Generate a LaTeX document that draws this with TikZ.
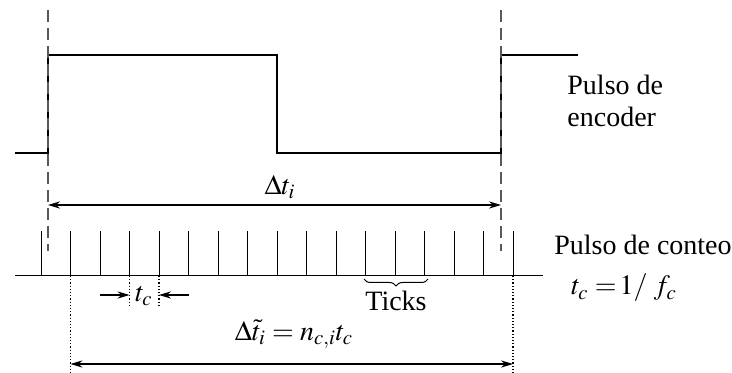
\documentclass[tikz,border=0pt]{standalone}
\usepackage{mathptmx}
\usepackage{fontspec}
\setmainfont{Liberation Serif}
\usetikzlibrary{arrows.meta, positioning, decorations.pathreplacing}

\begin{document}
\begin{tikzpicture}[
    x=0.5pt, y=-0.5pt,
    % styles des traits
    signal/.style = {line width=1pt, line join=miter},
    tickln/.style = {line width=0.5pt},
    guide/.style  = {dashed, gray!70!black, line width=0.6pt, dash pattern=on 6pt off 3pt},
    dotln/.style  = {densely dotted, line width=0.6pt},
    dim/.style    = {{Stealth[length=6pt,width=3.6pt]}-{Stealth[length=6pt,width=3.6pt]}, line width=0.6pt},
    arrow/.style  = {-{Stealth[length=6pt,width=3.6pt]}, line width=0.6pt},
    lbl/.style    = {inner sep=1pt, font=\fontsize{14}{16}\selectfont},
]
\useasboundingbox (0,0) rectangle (732,373);

% ── Pulso de encoder ─────────────────────────────────────────────────────────
\coordinate (e0) at (15,153);
\coordinate (e1) at (48,153);
\coordinate (e2) at (48,55);
\coordinate (e3) at (277,55);
\coordinate (e4) at (277,153);
\coordinate (e5) at (501,153);
\coordinate (e6) at (501,55);
\coordinate (e7) at (578,55);
\draw[signal] (e0) -- (e1) -- (e2) -- (e3) -- (e4) -- (e5) -- (e6) -- (e7);

\node[lbl, align=left, anchor=west] (enc) at (565,101) {Pulso de\\encoder};

% ── Lignes de repère ─────────────────────────────────────────────────────────
\coordinate (gl) at (48,10);
\coordinate (gr) at (501,10);
\coordinate (gl_b) at (48,251);
\coordinate (gr_b) at (501,251);
\draw[guide] (gl) -- (gl_b);
\draw[guide] (gr) -- (gr_b);

% ── Δt_i ─────────────────────────────────────────────────────────────────────
\coordinate (dl) at (48,205);
\coordinate (dr) at (501,205);
\draw[dim] (dl) -- (dr);
\node[lbl] (dti) at (280,187) {$\Delta t_i$};

% ── Pulso de conteo ──────────────────────────────────────────────────────────
\coordinate (b0) at (15,276);
\coordinate (b1) at (543,276);
\draw[tickln] (b0) -- (b1);
\foreach \k in {0,...,16} {
    \coordinate (t\k) at (41+29.5*\k,276);
    \draw[tickln] (t\k) -- ++(0,-45);
}

\node[lbl] (cnt) at (643,245) {Pulso de conteo};
\node[lbl] (tcf) at (624,288) {$t_c \;{=}\, 1/\;f_c$};

% ── t_c ──────────────────────────────────────────────────────────────────────
\coordinate (c1) at (129.5,305);
\coordinate (c2) at (159,305);
\draw[dotln] (t3) -- (c1);
\draw[dotln] (t4) -- (c2);
\coordinate (ca) at (100,295);
\coordinate (cb) at (129.5,295);
\coordinate (cc) at (189,295);
\coordinate (cd) at (159,295);
\draw[arrow] (ca) -- (cb);
\draw[arrow] (cc) -- (cd);
\node[lbl] (tc) at (144,296) {$t_c$};

% ── Ticks ────────────────────────────────────────────────────────────────────
\coordinate (k1) at (364,279);
\coordinate (k2) at (428,279);
\draw[tickln, decorate, decoration={brace, mirror, amplitude=3.5pt}] (k1) -- (k2);
\node[lbl] (ticks) at (396,301) {Ticks};

% ── Δt̃_i ────────────────────────────────────────────────────────────────────
\coordinate (m1) at (70.5,373);
\coordinate (m2) at (513,373);
\draw[dotln] (t1) -- (m1);
\draw[dotln] (t16) -- (m2);
\coordinate (ml) at (70.5,364);
\coordinate (mr) at (513,364);
\draw[dim] (ml) -- (mr);
\node[lbl] (dtt) at (294,334) {$\Delta\tilde{t}_i = n_{c,i}t_c$};

\end{tikzpicture}
\end{document}
